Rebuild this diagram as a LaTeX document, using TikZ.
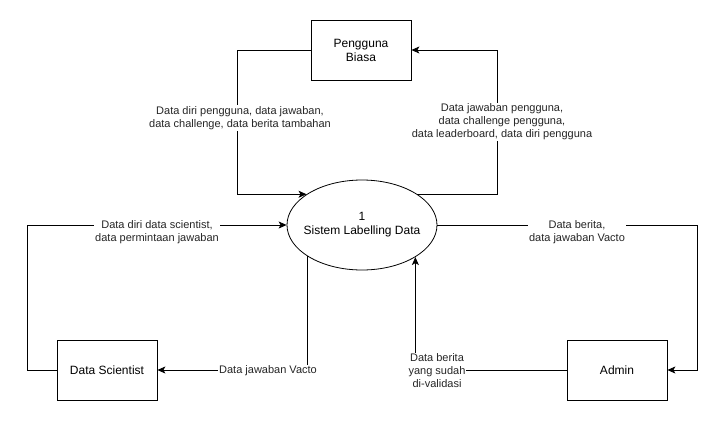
\documentclass[tikz,border=0pt]{standalone}
\usepackage{fontspec}
\setmainfont{Liberation Sans}
\usetikzlibrary{arrows.meta,shapes.geometric}
\begin{document}
\begin{tikzpicture}[x=1pt,y=-1pt,
  ent/.style={draw,line width=0.8pt,minimum width=100pt,minimum height=60pt,inner sep=0pt,align=center,font=\fontsize{12}{14}\selectfont},
  proc/.style={draw,line width=0.8pt,ellipse,minimum width=150pt,minimum height=90pt,inner sep=0pt},
  ptext/.style={inner sep=0pt,align=center,font=\fontsize{12}{14}\selectfont},
  arr/.style={draw,line width=0.8pt,-{Stealth[length=8pt,width=7pt,inset=2pt]}},
  lbl/.style={fill=white,inner sep=1pt,align=center,text=black!85,font=\fontsize{11}{13}\selectfont}]
\useasboundingbox[fill=white] (0,0) rectangle (726,421);
\node[ent] (pb) at (361,50) {Pengguna\\Biasa};
\node[proc] (e) at (362,225) {};
\node[ptext] (et) at (e.center) {1\\Sistem Labelling Data};
\node[ent] (ds) at (107,370) {Data Scientist};
\node[ent] (adm) at (617,370) {Admin};
\coordinate (k1) at (237,50);
\coordinate (k2) at (497,50);
\coordinate (k3) at (27,370);
\coordinate (k5) at (697,370);
\draw[arr] (pb.west) -- (k1) |- (e.151);
\draw[arr] (e.29) -| (k2) -- (pb.east);
\draw[arr] (ds.west) -- (k3) |- (e.west);
\draw[arr] (e.210) |- (ds.east);
\draw[arr] (e.east) -| (k5) -- (adm.east);
\draw[arr] (adm.west) -| (e.329);
\node[lbl] (l1) at (240,118) {Data diri pengguna, data jawaban,\\data challenge, data berita tambahan};
\node[lbl] (l2) at (502,122) {Data jawaban pengguna,\\data challenge pengguna,\\data leaderboard, data diri pengguna};
\node[lbl] (l3) at (157,232) {Data diri data scientist,\\data permintaan jawaban};
\node[lbl] (l4) at (268,371) {Data jawaban Vacto};
\node[lbl] (l5) at (577,232) {Data berita,\\data jawaban Vacto};
\node[lbl] (l6) at (437,371) {Data berita\\yang sudah\\di-validasi};
\end{tikzpicture}
\end{document}
